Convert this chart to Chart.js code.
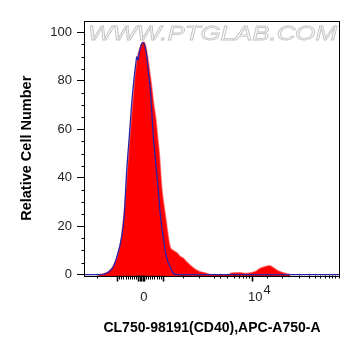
<!DOCTYPE html>
<html><head><meta charset="utf-8">
<script src="https://cdn.jsdelivr.net/npm/chart.js@4.4.0/dist/chart.umd.min.js"></script>
<style>html,body{margin:0;padding:0;background:#fff}</style>
</head><body>
<canvas id="c" width="361" height="356"></canvas>
<script>
// Display units on the x axis: 0 = "0" position, 108.7 = 10^4 (biexponential display scale)
const sampleX = [-45,-40,-35,-30,-25,-22,-19,-17,-15,-13,-11,-9,-7,-5,-3,-1,0,1.5,3,5,7,8.4,10.5,12.7,14.5,16,18.4,20.5,22.7,24.5,26.7,30,33.7,37,40,44,48.7,52,56.7,61,65,68,
  84,88.7,96.7,102.7,106.7,111.7,116.7,121.7,126,129.7,134.7,139.7,146.7];
const sampleY = [0,0.3,1.2,3.5,8.8,15,26,36,47,58,68,78,86,91,94,95.5,96,95.5,93,88,82,77.6,70,63.8,56,50,36.3,29,22.6,17,11.6,10,9,7.5,6.8,5,3.3,2.2,1.2,0.8,0.3,0,
  0,0.7,0.8,0.5,0.7,1.2,2.6,3.3,3.7,3.0,1.6,0.8,0];
const controlX = [-59.3,-42,-40,-35,-30,-26,-21.6,-19,-16.6,-14,-11.6,-9.5,-7.5,-6.6,-5.3,-4.3,-2,0,1.5,3.5,5.2,6.7,8.5,10,11.5,13.3,15,17,20.5,22.5,24.5,26.7,30,33.5,196.7];
const controlY = [0,0,0.1,1,3.3,8,15.7,25,43,57,70.7,80,87,90,88.5,91,95,95.8,94.5,90,83,77.6,67,57,50,42,35,25,14,8.7,5.5,3.3,0.6,0,0];

const yTickValues = [0,20,40,60,80,100];
const yMinorTicks = [5,10,15,25,30,35,45,50,55,65,70,75,85,90,95];
const xTickValues = [0.5, 112];
const xTickLabels = ['0','10'];
const xTickSuperscripts = ['','4'];
const xLongTicks = [-26.6,-5,-3.5,-2,-0.5,0.5,19.7,108.7];
const xMidTicks = [-24.4,-22.2,-20,-17.8,-15.6,-13.4,-11.2,-9,-7,2.2,4.4,6.6,8.8,11,13.2,15.4,17.6];
const xShortTicks = [-46,39.7,55.7,70.4,77,83.7,90.4,95.4,99.4,102.7,105.4,123.7,138.7,156,165.4,172,177,181.4,185.4,188.7,192,195.4];

const pts = (xs, ys) => xs.map((x, i) => ({x: x, y: ys[i]}));

const decor = {
  id: 'decor',
  beforeDatasetsDraw(chart) {
    const ctx = chart.ctx, a = chart.chartArea;
    ctx.save();
    const txt = 'WWW.PTGLAB.COM';
    ctx.font = 'italic 21px "Liberation Sans", Arial, sans-serif';
    const w = ctx.measureText(txt).width;
    const sx = 249 / w;
    ctx.translate(88, 40);
    ctx.scale(sx, 1);
    ctx.textBaseline = 'alphabetic';
    ctx.fillStyle = '#fafafa';
    ctx.fillText(txt, 0, 0);
    ctx.lineWidth = 0.8;
    ctx.strokeStyle = '#c4c4c4';
    ctx.strokeText(txt, 0, 0);
    ctx.restore();
  },
  afterDraw(chart) {
    const ctx = chart.ctx, a = chart.chartArea;
    const xs = chart.scales.x, ys = chart.scales.y;
    ctx.save();
    ctx.strokeStyle = '#000';
    ctx.lineWidth = 1;
    ctx.strokeRect(Math.round(a.left) + 0.5, Math.round(a.top) + 0.5, Math.round(a.right - a.left) - 1, Math.round(a.bottom - a.top) - 1);
    const bottom = Math.round(a.bottom) - 0.5;
    const drawX = (vals, len, lw) => {
      ctx.lineWidth = lw;
      vals.forEach(v => {
        const p = Math.round(xs.getPixelForValue(v)) + 0.5;
        ctx.beginPath(); ctx.moveTo(p, bottom); ctx.lineTo(p, bottom + len); ctx.stroke();
      });
    };
    drawX(xShortTicks, 3, 1);
    drawX(xMidTicks, 4, 1);
    drawX(xLongTicks, 6, 1.6);
    const left = Math.round(a.left) + 0.5;
    ctx.lineWidth = 1;
    yMinorTicks.forEach(v => {
      const p = Math.round(ys.getPixelForValue(v)) + 0.5;
      ctx.beginPath(); ctx.moveTo(left, p); ctx.lineTo(left - 3, p); ctx.stroke();
    });
    // superscripts of x tick labels
    ctx.fillStyle = '#222';
    ctx.font = '13px "Liberation Sans", Arial, sans-serif';
    ctx.textBaseline = 'middle';
    ctx.textAlign = 'left';
    xTickValues.forEach((v, i) => {
      if (!xTickSuperscripts[i]) return;
      const p = xs.getPixelForValue(v);
      const w = ctx.measureText(xTickLabels[i]).width;
      ctx.fillText(xTickSuperscripts[i], p + w / 2 + 1, 290.5);
    });
    ctx.restore();
  }
};

new Chart(document.getElementById('c'), {
  type: 'line',
  data: {
    datasets: [
      {
        label: 'Control',
        data: pts(controlX, controlY),
        borderColor: '#2a22a6',
        borderWidth: 1.3,
        fill: false,
        pointRadius: 0,
        tension: 0.35,
        cubicInterpolationMode: 'monotone'
      },
      {
        label: 'CD40',
        data: pts(sampleX, sampleY),
        borderColor: 'rgba(255,40,40,0.55)',
        borderWidth: 1.5,
        backgroundColor: '#ff0000',
        fill: 'start',
        pointRadius: 0,
        tension: 0.35,
        cubicInterpolationMode: 'monotone'
      }
    ]
  },
  options: {
    responsive: false,
    animation: false,
    devicePixelRatio: 1,
    layout: { padding: { left: 0, right: 21, top: 20.5, bottom: 0 } },
    plugins: { legend: { display: false }, tooltip: { enabled: false } },
    scales: {
      x: {
        type: 'linear',
        min: -59.3,
        max: 196.7,
        afterFit(s) { s.height = 80; },
        afterBuildTicks(s) { s.ticks = xTickValues.map(v => ({value: v})); },
        grid: { display: true, drawOnChartArea: false, drawTicks: true, tickLength: 6, tickColor: 'rgba(0,0,0,0)' },
        border: { display: false },
        ticks: {
          autoSkip: false, maxRotation: 0, padding: 8,
          color: '#222',
          font: { family: '"Liberation Sans", Arial, sans-serif', size: 13 },
          callback(v, i) { return xTickLabels[i]; }
        },
        title: {
          display: true,
          text: 'CL750-98191(CD40),APC-A750-A',
          color: '#000',
          font: { family: '"Liberation Sans", Arial, sans-serif', size: 14, weight: 'bold' },
          padding: { top: 0, bottom: 19 }
        }
      },
      y: {
        type: 'linear',
        min: -0.54,
        max: 104.9,
        afterFit(s) { s.width = 84; },
        afterBuildTicks(s) { s.ticks = yTickValues.map(v => ({value: v})); },
        grid: { display: true, drawOnChartArea: false, drawTicks: true, tickLength: 7, tickColor: '#000' },
        border: { display: false },
        ticks: {
          padding: 5,
          color: '#222',
          font: { family: '"Liberation Sans", Arial, sans-serif', size: 13 },
          callback(v) { return String(v); }
        },
        title: {
          display: true,
          text: 'Relative Cell Number',
          color: '#000',
          font: { family: '"Liberation Sans", Arial, sans-serif', size: 14.5, weight: 'bold' },
          padding: { top: 18, bottom: 0 }
        }
      }
    }
  },
  plugins: [decor]
});
</script>
</body></html>
